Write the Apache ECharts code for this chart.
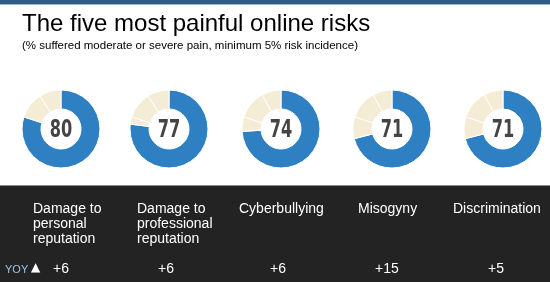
<!DOCTYPE html>
<html>
<head>
<meta charset="utf-8">
<script src="https://cdn.jsdelivr.net/npm/echarts@6/dist/echarts.min.js"></script>
<style>
html,body{margin:0;padding:0;background:#fff;}
#c{width:550px;height:282px;}
</style>
</head>
<body>
<div id="c"></div>
<script>
// ---- data ----
var titleText = 'The five most painful online risks';
var subtitleText = '(% suffered moderate or severe pain, minimum 5% risk incidence)';
var categories = [
  'Damage to\npersonal\nreputation',
  'Damage to\nprofessional\nreputation',
  'Cyberbullying',
  'Misogyny',
  'Discrimination'
];
var painScores = [80, 77, 74, 71, 71];
var otherPartA = [0, 3, 6, 9, 9];
var otherPartB = [11, 11, 12, 12, 12];
var otherPartC = [9, 9, 8, 8, 8];
var yoyChange = ['+6', '+6', '+6', '+15', '+5'];

// ---- layout ----
var centersX = [61, 169, 281, 392, 503];
var centerY = 129;
var labelX = [33, 137, 239, 358, 453];
var yoyX = [53, 158, 270, 375, 488];
var BLUE = '#2f80c2', BEIGE = '#f5ecd6';

var series = painScores.map(function (v, i) {
  var data = [
    {value: v, name: 'pain', itemStyle: {color: BLUE}},
    {value: otherPartA[i], name: 'a', itemStyle: {color: BEIGE}},
    {value: otherPartB[i], name: 'b', itemStyle: {color: BEIGE}},
    {value: otherPartC[i], name: 'c', itemStyle: {color: BEIGE}}
  ].filter(function (d) { return d.value > 0; });
  return {
    type: 'pie',
    center: [centersX[i], centerY],
    radius: [20, 39],
    startAngle: 90,
    clockwise: true,
    silent: true,
    animation: false,
    label: {show: false},
    labelLine: {show: false},
    itemStyle: {borderColor: '#fff', borderWidth: 1},
    emphasis: {disabled: true},
    data: data
  };
});

var graphics = [
  {type: 'rect', shape: {x: 0, y: 0, width: 550, height: 4}, style: {fill: '#2b5b86'}},
  {type: 'rect', shape: {x: 0, y: 4, width: 550, height: 1}, style: {fill: '#9fb6c9'}},
  {type: 'rect', shape: {x: 0, y: 185, width: 550, height: 1}, style: {fill: '#8a8a8a'}},
  {type: 'rect', shape: {x: 0, y: 186, width: 550, height: 96}, style: {fill: '#232323'}},
  {type: 'text', x: 22, y: 12, style: {text: titleText, fill: '#000',
    font: '24px "Liberation Sans", Arial, sans-serif'}},
  {type: 'text', x: 22, y: 40, style: {text: subtitleText, fill: '#000',
    font: '11.5px "Liberation Sans", Arial, sans-serif'}},
  {type: 'text', x: 5, y: 264, style: {text: 'YOY', fill: '#9fc3e6',
    font: '11px "Liberation Sans", Arial, sans-serif'}},
  {type: 'text', x: 31, y: 262, style: {text: '\u25B2', fill: '#fff',
    font: '12px "DejaVu Sans", sans-serif'}}
];
painScores.forEach(function (v, i) {
  graphics.push({type: 'text', x: centersX[i], y: centerY + 1, scaleX: 0.72, z: 100,
    style: {text: String(v), fill: '#444', align: 'center', verticalAlign: 'middle',
      font: 'bold 25px "DejaVu Sans Condensed","DejaVu Sans",sans-serif'}});
});
categories.forEach(function (c, i) {
  graphics.push({type: 'text', x: labelX[i], y: 202, style: {text: c, fill: '#fff',
    font: '14px "Liberation Sans", Arial, sans-serif', lineHeight: 15}});
  graphics.push({type: 'text', x: yoyX[i], y: 262, style: {text: yoyChange[i], fill: '#fff',
    font: '14px "Liberation Sans", Arial, sans-serif'}});
});

var chart = echarts.init(document.getElementById('c'), null, {renderer: 'canvas'});
chart.setOption({
  animation: false,
  backgroundColor: '#fff',
  series: series,
  graphic: graphics
});
</script>
</body>
</html>
